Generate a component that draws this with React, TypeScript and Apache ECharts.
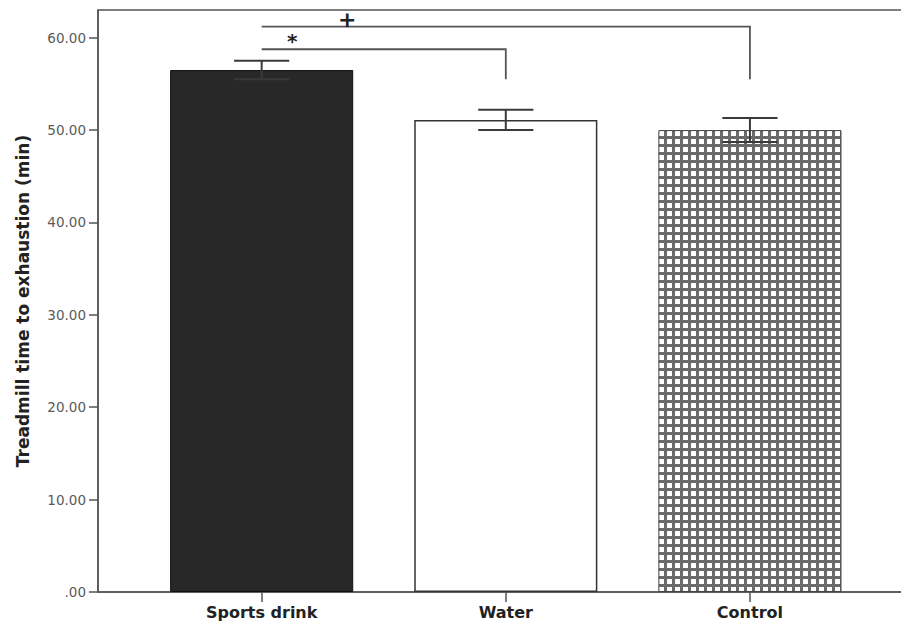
import React, { useEffect, useRef } from "react";
import * as echarts from "echarts";

const categories = ["Sports drink", "Water", "Control"];
const means = [56.5, 51.1, 50.0];
const errors = [1.0, 1.1, 1.3];
const yTickValues = [0, 10, 20, 30, 40, 50, 60];
const brackets = [
  { from: 0, to: 1, level: 58.75, drop: 55.5, mark: "*", markShift: 0.125 },
  { from: 0, to: 2, level: 61.2, drop: 55.5, mark: "+", markShift: 0.35 },
];

const AXIS = "#555";
const FONT = "DejaVu Sans";

function makePattern() {
  const c = document.createElement("canvas");
  c.width = 8;
  c.height = 8;
  const ctx = c.getContext("2d")!;
  ctx.fillStyle = "#ffffff";
  ctx.fillRect(0, 0, 8, 8);
  ctx.fillStyle = "#6a6a6a";
  ctx.fillRect(0, 0, 8, 3);
  ctx.fillRect(0, 0, 3, 8);
  return c;
}

export default function App() {
  const ref = useRef<HTMLDivElement>(null);
  useEffect(() => {
    if (!ref.current) return;
    const chart = echarts.init(ref.current, undefined, { renderer: "svg" });
    const pattern = makePattern();
    const barStyles = [
      { color: "#282828", borderColor: "#111", borderWidth: 1 },
      { color: "#ffffff", borderColor: "#333", borderWidth: 1.5 },
      { color: { image: pattern, repeat: "repeat" }, borderColor: "#444", borderWidth: 1 },
    ];
    const option: any = {
      animation: false,
      backgroundColor: "#ffffff",
      grid: [
        {
          left: 98, right: -20, top: 10, bottom: 36, show: true, borderColor: AXIS, borderWidth: 1.5,
          backgroundColor: "transparent", outerBoundsMode: "none", containLabel: false,
        },
        { left: 139.6, right: 29, top: 10, bottom: 36, outerBoundsMode: "none", containLabel: false },
      ],
      xAxis: [
        {
          type: "value", gridIndex: 0, min: 0, max: 1,
          axisLine: { show: true, lineStyle: { color: AXIS, width: 1.5 } },
          axisTick: { show: false }, axisLabel: { show: false }, splitLine: { show: false },
        },
        {
          type: "category", gridIndex: 1, data: categories,
          axisLine: { show: false },
          axisTick: { show: true, alignWithLabel: true, length: 10, lineStyle: { color: AXIS, width: 1.5 } },
          axisLabel: { fontFamily: FONT, fontWeight: "bold", fontSize: 16, color: "#222", margin: 12 },
        },
      ],
      yAxis: [
        {
          type: "value", gridIndex: 0, min: 0, max: 63,
          axisLine: { show: true, lineStyle: { color: AXIS, width: 1.5 } },
          axisTick: { show: true, length: 9, customValues: yTickValues, lineStyle: { color: AXIS, width: 1.5 } },
          axisLabel: {
            customValues: yTickValues, margin: 12, fontFamily: FONT, fontSize: 13.5, color: "#5a5a5a",
            formatter: (v: number) => (v === 0 ? ".00" : v.toFixed(2)),
          },
          splitLine: { show: false },
          name: "Treadmill time to exhaustion (min)",
          nameLocation: "middle",
          nameGap: 67,
          nameTextStyle: { fontFamily: FONT, fontWeight: "bold", fontSize: 17, color: "#222" },
        },
        { type: "value", gridIndex: 1, min: 0, max: 63, show: false },
      ],
      series: [
        {
          type: "bar", xAxisIndex: 1, yAxisIndex: 1, barWidth: "75%",
          data: means.map((m, i) => ({ value: m, itemStyle: barStyles[i] })),
        },
        {
          type: "custom", xAxisIndex: 1, yAxisIndex: 1, z: 5,
          data: means.map((m, i) => [i, m, errors[i]]),
          renderItem: (params: any, api: any) => {
            const x = api.value(0);
            const m = api.value(1);
            const e = api.value(2);
            const top = api.coord([x, m + e]);
            const bot = api.coord([x, m - e]);
            const half = api.size([1, 0])[0] * 0.113;
            const ls = { stroke: "#3a3a3a", lineWidth: 2 };
            return {
              type: "group",
              children: [
                { type: "line", shape: { x1: top[0], y1: top[1], x2: bot[0], y2: bot[1] }, style: ls },
                { type: "line", shape: { x1: top[0] - half, y1: top[1], x2: top[0] + half, y2: top[1] }, style: ls },
                { type: "line", shape: { x1: bot[0] - half, y1: bot[1], x2: bot[0] + half, y2: bot[1] }, style: ls },
              ],
            };
          },
        },
        {
          type: "custom", xAxisIndex: 1, yAxisIndex: 1, z: 5,
          data: brackets.map((b) => [b.from, b.to, b.level, b.drop, b.markShift]),
          renderItem: (params: any, api: any) => {
            const b = brackets[params.dataIndex];
            const p0 = api.coord([api.value(0), api.value(2)]);
            const p1 = api.coord([api.value(1), api.value(2)]);
            const p2 = api.coord([api.value(1), api.value(3)]);
            const band = api.size([1, 0])[0];
            const ls = { stroke: "#555", lineWidth: 1.8, fill: "none" };
            const isStar = b.mark === "*";
            return {
              type: "group",
              children: [
                { type: "polyline", shape: { points: [p0, p1, p2] }, style: ls },
                {
                  type: "text",
                  x: p0[0] + band * api.value(4),
                  y: p0[1] + (isStar ? 2 : 4),
                  style: {
                    text: b.mark,
                    fontFamily: FONT,
                    fontWeight: "bold",
                    fontSize: isStar ? 20 : 22,
                    fill: "#222",
                    align: "center",
                    verticalAlign: "bottom",
                  },
                },
              ],
            };
          },
        },
      ],
    };
    chart.setOption(option);
    return () => chart.dispose();
  }, []);
  return <div ref={ref} style={{ position: "fixed", left: 0, top: 0, width: 901, height: 628 }} />;
}
